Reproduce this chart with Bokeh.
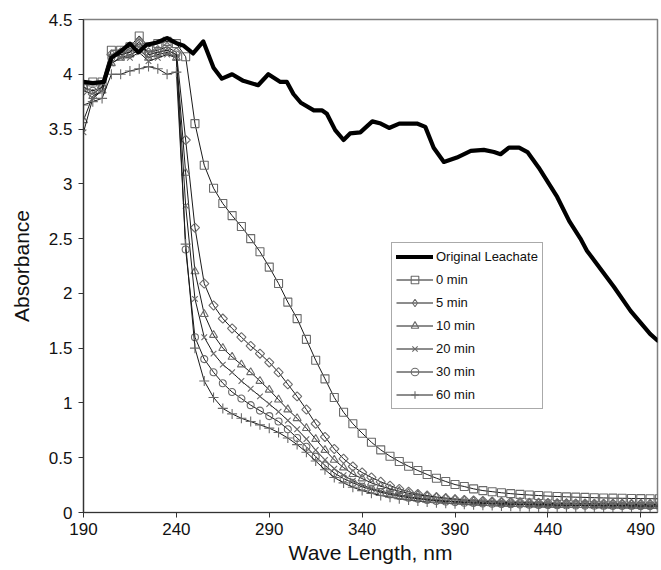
import math
from bokeh.plotting import figure
from bokeh.models import Range1d, FixedTicker, Legend, LegendItem
from bokeh.embed import file_html
from bokeh.resources import INLINE

# ---------------- data ----------------
WL = [190, 195, 200, 205, 210, 215, 220, 225, 230, 235, 240,
      245, 250, 255, 260, 265, 270, 275, 280, 285, 290,
      295, 300, 305, 310, 315, 320, 325, 330, 335, 340,
      345, 350, 355, 360, 365, 370, 375, 380, 385, 390,
      395, 400, 405, 410, 415, 420, 425, 430, 435, 440,
      445, 450, 455, 460, 465, 470, 475, 480, 485, 490,
      495, 500]

# Original leachate (thick line), read at its own wavelengths
WL_ORIG = [190, 195, 201, 205, 210, 215, 219.5, 224, 229.5, 235, 240.5, 244, 249,
           254.5, 260, 264.5, 270, 276, 284, 289.5, 296, 299.5, 303, 307, 314,
           318.5, 321, 325.5, 330, 333.5, 339, 345.5, 350, 354.5, 360, 369.5,
           374, 378.5, 384, 391, 398.5, 405.5, 411, 414.5, 419, 424.5, 429, 435,
           445, 451.5, 457.5, 461, 475.5, 484.5, 495, 499]
ABS_ORIG = [3.93, 3.92, 3.93, 4.15, 4.21, 4.28, 4.20, 4.27, 4.29, 4.33, 4.28, 4.26, 4.19,
            4.30, 4.06, 3.96, 4.00, 3.94, 3.90, 4.00, 3.93, 3.93, 3.82, 3.74, 3.67,
            3.67, 3.64, 3.49, 3.40, 3.46, 3.47, 3.57, 3.55, 3.51, 3.55, 3.55,
            3.52, 3.33, 3.20, 3.24, 3.30, 3.31, 3.29, 3.27, 3.33, 3.33, 3.29, 3.15,
            2.88, 2.66, 2.50, 2.39, 2.06, 1.84, 1.63, 1.57]

MIN_0 = [3.90, 3.93, 3.93, 4.22, 4.22, 4.25, 4.35, 4.25, 4.28, 4.30, 4.28,
         4.16, 3.55, 3.17, 2.96, 2.82, 2.71, 2.61, 2.50, 2.38, 2.24,
         2.09, 1.92, 1.77, 1.58, 1.39, 1.22, 1.05, 0.915, 0.81, 0.724,
         0.641, 0.572, 0.514, 0.465, 0.422, 0.383, 0.347, 0.313, 0.283, 0.255,
         0.237,
         0.216, 0.20, 0.19, 0.18, 0.172, 0.165, 0.16, 0.155, 0.15, 0.146, 0.143,
         0.14, 0.138, 0.135, 0.133, 0.131, 0.13, 0.128, 0.127, 0.126, 0.125]
MIN_5 = [3.85, 3.82, 3.88, 4.18, 4.20, 4.20, 4.28, 4.20, 4.22, 4.25, 4.20,
         3.40, 2.60, 2.09, 1.89, 1.77, 1.68, 1.60, 1.52, 1.45, 1.37,
         1.28, 1.17, 1.06, 0.94, 0.81, 0.69, 0.58, 0.49, 0.42, 0.365,
         0.32, 0.28, 0.245, 0.215, 0.19, 0.17, 0.155, 0.14, 0.13, 0.12,
         0.115,
         0.11, 0.105, 0.10, 0.097, 0.095, 0.093, 0.09, 0.088, 0.087, 0.085, 0.084,
         0.083, 0.082, 0.081, 0.08, 0.08, 0.079, 0.078, 0.078, 0.077, 0.077]
MIN_10 = [3.58, 3.80, 3.85, 4.10, 4.15, 4.18, 4.22, 4.15, 4.18, 4.20, 4.15,
          3.10, 2.20, 1.81, 1.62, 1.50, 1.42, 1.35, 1.28, 1.20, 1.12,
          1.03, 0.94, 0.86, 0.77, 0.67, 0.57, 0.48, 0.41, 0.35, 0.31,
          0.27, 0.24, 0.215, 0.195, 0.175, 0.16, 0.15, 0.14, 0.13, 0.12,
          0.11,
          0.105, 0.10, 0.096, 0.093, 0.09, 0.088, 0.086, 0.084, 0.083, 0.081, 0.08,
          0.079, 0.078, 0.077, 0.076, 0.075, 0.075, 0.074, 0.073, 0.073, 0.072]
MIN_20 = [3.47, 3.78, 3.85, 4.10, 4.15, 4.15, 4.20, 4.12, 4.15, 4.18, 4.15,
          2.80, 1.95, 1.60, 1.45, 1.35, 1.28, 1.20, 1.13, 1.06, 0.99,
          0.92, 0.84, 0.76, 0.67, 0.57, 0.48, 0.40, 0.34, 0.29, 0.25,
          0.22, 0.195, 0.175, 0.16, 0.145, 0.13, 0.12, 0.11, 0.105, 0.10,
          0.098,
          0.095, 0.09, 0.086, 0.083, 0.08, 0.078, 0.076, 0.074, 0.072, 0.07, 0.069,
          0.068, 0.067, 0.066, 0.065, 0.064, 0.064, 0.063, 0.062, 0.062, 0.061]
MIN_30 = [3.88, 3.85, 3.88, 4.15, 4.18, 4.20, 4.30, 4.18, 4.20, 4.22, 4.18,
          2.40, 1.60, 1.40, 1.28, 1.18, 1.10, 1.04, 0.98, 0.93, 0.88,
          0.83, 0.76, 0.68, 0.60, 0.51, 0.43, 0.36, 0.31, 0.27, 0.235,
          0.21, 0.185, 0.165, 0.15, 0.135, 0.125, 0.115, 0.105, 0.10, 0.095,
          0.09,
          0.087, 0.083, 0.08, 0.077, 0.075, 0.073, 0.071, 0.069, 0.068, 0.066, 0.065,
          0.064, 0.063, 0.062, 0.061, 0.06, 0.06, 0.059, 0.058, 0.058, 0.057]
MIN_60 = [3.72, 3.75, 3.78, 4.00, 4.00, 4.03, 4.05, 4.07, 4.05, 4.00, 4.02,
          2.45, 1.50, 1.20, 1.05, 0.95, 0.90, 0.86, 0.83, 0.80, 0.77,
          0.73, 0.68, 0.62, 0.55, 0.47, 0.39, 0.32, 0.27, 0.23, 0.20,
          0.175, 0.155, 0.14, 0.125, 0.115, 0.105, 0.095, 0.09, 0.085, 0.08,
          0.075,
          0.07, 0.066, 0.063, 0.06, 0.057, 0.055, 0.053, 0.051, 0.05, 0.048, 0.047,
          0.046, 0.045, 0.044, 0.043, 0.042, 0.042, 0.041, 0.04, 0.04, 0.039]

SERIES_LABELS = ["0 min", "5 min", "10 min", "20 min", "30 min", "60 min"]
ORIG_LABEL = "Original Leachate"

X_TICKS = [190, 240, 290, 340, 390, 440, 490]
Y_TICKS = [0, 0.5, 1, 1.5, 2, 2.5, 3, 3.5, 4, 4.5]
Y_TICK_LABELS = ["0", "0.5", "1", "1.5", "2", "2.5", "3", "3.5", "4", "4.5"]

X_TITLE = "Wave Length, nm"
Y_TITLE = "Absorbance"

# ---------------- figure ----------------
FONT = "Liberation Sans"

p = figure(width=661, height=570, output_backend="svg", toolbar_location=None,
           x_range=Range1d(190, 499), y_range=Range1d(0, 4.5),
           min_border_left=83, min_border_top=19, min_border_right=4,
           min_border_bottom=58)
p.background_fill_color = "white"
p.border_fill_color = "white"
p.outline_line_color = "#808080"
p.outline_line_width = 1.5
p.xgrid.visible = False
p.ygrid.visible = False

for ax in (p.xaxis[0], p.yaxis[0]):
    ax.axis_line_color = "#333333"
    ax.axis_line_width = 1.2
    ax.major_tick_line_color = "#333333"
    ax.major_tick_out = 5
    ax.major_tick_in = 0
    ax.minor_tick_out = 0
    ax.minor_tick_in = 0
    ax.major_label_text_font = FONT
    ax.major_label_text_font_size = "17px"
    ax.major_label_text_color = "#111111"
    ax.axis_label_text_font = FONT
    ax.axis_label_text_font_size = "21px"
    ax.axis_label_text_font_style = "normal"
    ax.axis_label_text_color = "#111111"

p.xaxis.ticker = FixedTicker(ticks=X_TICKS)
p.yaxis.ticker = FixedTicker(ticks=Y_TICKS)
p.yaxis.major_label_overrides = {t: l for t, l in zip(Y_TICKS, Y_TICK_LABELS)}
p.xaxis.axis_label = X_TITLE
p.yaxis.axis_label = Y_TITLE
p.xaxis.major_label_standoff = 5
p.yaxis.major_label_standoff = 6
p.xaxis.axis_label_standoff = 3
p.yaxis.axis_label_standoff = 13

MARKERS = [("square", 8, 0), ("square", 6.5, math.pi / 4), ("triangle", 8, 0),
           ("x", 8, 0), ("circle", 7, 0), ("cross", 10, 0)]
MARK_COLOR = "#6a6a6a"

items = []
series = [MIN_0, MIN_5, MIN_10, MIN_20, MIN_30, MIN_60]
for lab, ys, (mk, sz, ang) in zip(SERIES_LABELS, series, MARKERS):
    lr = p.line(WL, ys, line_color="#1a1a1a", line_width=1)
    sr = p.scatter(WL, ys, marker=mk, size=sz, angle=ang,
                   line_color=MARK_COLOR, line_width=1.1, fill_color=None)
    legend_marks = [lr, sr]
    if ang != 0:
        # legend-only glyph (the legend does not rotate markers)
        dummy = p.scatter([float("nan")], [float("nan")], marker="diamond",
                          size=10, line_color=MARK_COLOR, line_width=1.1,
                          fill_color=None)
        legend_marks = [lr, dummy]
    items.append(LegendItem(label=lab, renderers=legend_marks))

orig = p.line(WL_ORIG, ABS_ORIG, line_color="black", line_width=4.2,
              line_join="round", line_cap="round")
items.insert(0, LegendItem(label=ORIG_LABEL, renderers=[orig]))

legend = Legend(items=items, location=(308, 103))
legend.border_line_color = "#555555"
legend.border_line_width = 1
legend.background_fill_color = "white"
legend.background_fill_alpha = 1
legend.padding = 4
legend.spacing = 4
legend.margin = 0
legend.glyph_width = 37
legend.glyph_height = 19
legend.label_height = 19
legend.label_standoff = 3
legend.label_text_font = FONT
legend.label_text_font_size = "13px"
legend.label_text_color = "#111111"
p.add_layout(legend)

open("out.html", "w").write(file_html(p, INLINE))
